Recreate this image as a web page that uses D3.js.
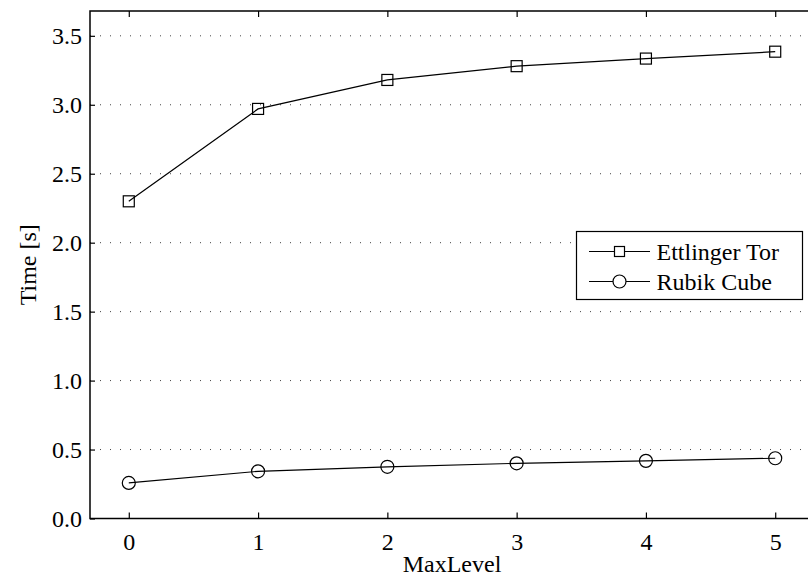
<!DOCTYPE html>
<html>
<head>
<meta charset="utf-8">
<script src="https://cdn.jsdelivr.net/npm/d3@7"></script>
<style>
  html, body { margin: 0; padding: 0; background: #fff; overflow: hidden; }
  svg { display: block; }
  svg text { font-family: "Liberation Serif", "Tinos", "DejaVu Serif", "Times New Roman", serif !important; fill: #000; }
</style>
</head>
<body>
<svg id="chart" width="808" height="577"></svg>
<script>
// MaxLevel values on the x axis
const levels = [0, 1, 2, 3, 4, 5];
// Run times in seconds
const ettlingerTor = [2.30, 2.97, 3.18, 3.28, 3.335, 3.385];
const rubikCube = [0.258, 0.342, 0.375, 0.40, 0.418, 0.437];
const seriesNames = ["Ettlinger Tor", "Rubik Cube"];
const yTicks = [0.0, 0.5, 1.0, 1.5, 2.0, 2.5, 3.0, 3.5];

const svg = d3.select("#chart");
const plotLeft = 90, plotTop = 11, plotRight = 814, plotBottom = 518.5;

const x = d3.scaleLinear().domain([-0.3, 5.3]).range([plotLeft, plotRight]);
const y = d3.scaleLinear().domain([0, 3.68]).range([plotBottom, plotTop]);

// dotted horizontal grid
svg.append("g")
  .selectAll("line")
  .data(yTicks.slice(1))
  .join("line")
  .attr("x1", plotLeft).attr("x2", plotRight)
  .attr("y1", d => y(d)).attr("y2", d => y(d))
  .attr("stroke", "#444")
  .attr("stroke-width", 1)
  .attr("stroke-dasharray", "1,9");

// frame
svg.append("rect")
  .attr("x", plotLeft).attr("y", plotTop)
  .attr("width", plotRight - plotLeft).attr("height", plotBottom - plotTop)
  .attr("fill", "none").attr("stroke", "#000").attr("stroke-width", 1.5);

// bottom axis: ticks point inward
const xAxis = d3.axisBottom(x).tickValues(levels).tickFormat(d3.format("d"))
  .tickSizeInner(-6).tickSizeOuter(0).tickPadding(14);
const gx = svg.append("g").attr("transform", `translate(0,${plotBottom})`).call(xAxis)
  .attr("font-family", null);
gx.select(".domain").remove();
gx.selectAll(".tick line").attr("stroke", "#000").attr("stroke-width", 1.2);
gx.selectAll("text").attr("font-size", 24).attr("dy", "0.72em");

// top axis ticks
const gxt = svg.append("g").attr("transform", `translate(0,${plotTop})`)
  .call(d3.axisTop(x).tickValues(levels).tickSizeInner(-6).tickSizeOuter(0).tickFormat(""));
gxt.select(".domain").remove();
gxt.selectAll(".tick line").attr("stroke", "#000").attr("stroke-width", 1.2);

// left axis
const yAxis = d3.axisLeft(y).tickValues(yTicks).tickFormat(d3.format(".1f"))
  .tickSizeInner(-5).tickSizeOuter(0).tickPadding(8);
const gy = svg.append("g").attr("transform", `translate(${plotLeft},0)`).call(yAxis)
  .attr("font-family", null);
gy.select(".domain").remove();
gy.selectAll(".tick line").attr("stroke", "#000").attr("stroke-width", 1.2);
gy.selectAll("text").attr("font-size", 24).attr("dy", "0.34em");

// axis titles
svg.append("text")
  .attr("x", (plotLeft + plotRight) / 2).attr("y", 572)
  .attr("text-anchor", "middle").attr("font-size", 24)
  .text("MaxLevel");
svg.append("text")
  .attr("transform", `translate(36,${(plotTop + plotBottom) / 2}) rotate(-90)`)
  .attr("text-anchor", "middle").attr("font-size", 24)
  .text("Time [s]");

const line = d3.line().x((d, i) => x(levels[i])).y(d => y(d));

// series lines
[ettlingerTor, rubikCube].forEach(vals => {
  svg.append("path").datum(vals)
    .attr("d", line).attr("fill", "none")
    .attr("stroke", "#000").attr("stroke-width", 1.2);
});

// square markers
const sq = 11;
svg.append("g").selectAll("rect").data(ettlingerTor).join("rect")
  .attr("x", (d, i) => x(levels[i]) - sq / 2)
  .attr("y", d => y(d) - sq / 2)
  .attr("width", sq).attr("height", sq)
  .attr("fill", "none").attr("stroke", "#000").attr("stroke-width", 1.2);

// circle markers
svg.append("g").selectAll("circle").data(rubikCube).join("circle")
  .attr("cx", (d, i) => x(levels[i]))
  .attr("cy", d => y(d))
  .attr("r", 6.5)
  .attr("fill", "none").attr("stroke", "#000").attr("stroke-width", 1.2);

// legend
const lg = svg.append("g");
lg.append("rect")
  .attr("x", 576.5).attr("y", 231.5).attr("width", 226).attr("height", 68)
  .attr("fill", "#fff").attr("stroke", "#000").attr("stroke-width", 1.2);
const rowsY = [251.5, 281.5];
seriesNames.forEach((name, i) => {
  const cy = rowsY[i];
  lg.append("line").attr("x1", 589).attr("x2", 650).attr("y1", cy).attr("y2", cy)
    .attr("stroke", "#000").attr("stroke-width", 1.2);
  if (i === 0) {
    lg.append("rect").attr("x", 619.5 - 5).attr("y", cy - 5).attr("width", 10).attr("height", 10)
      .attr("fill", "#fff").attr("stroke", "#000").attr("stroke-width", 1.2);
  } else {
    lg.append("circle").attr("cx", 619.5).attr("cy", cy).attr("r", 6.5)
      .attr("fill", "#fff").attr("stroke", "#000").attr("stroke-width", 1.2);
  }
  lg.append("text").attr("x", 656.5).attr("y", cy).attr("dy", "0.35em")
    .attr("font-size", 24).text(name);
});
</script>
</body>
</html>
